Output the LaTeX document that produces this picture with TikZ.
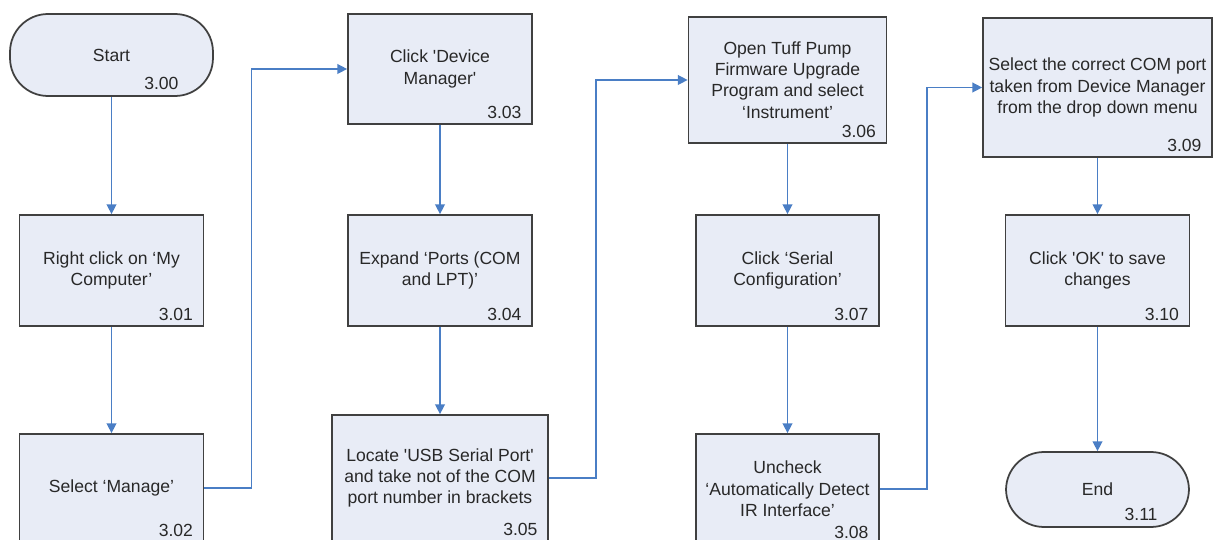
\documentclass[tikz,border=0pt]{standalone}
\usepackage{fontspec}
\setmainfont{Liberation Sans}
\usetikzlibrary{arrows.meta}
\definecolor{boxfill}{RGB}{232,236,246}
\definecolor{boxline}{RGB}{64,64,64}
\definecolor{connc}{RGB}{74,126,197}
\definecolor{txt}{RGB}{40,40,40}
\begin{document}
\begin{tikzpicture}[x=0.02cm,y=-0.02cm,
  stepbox/.style={draw=boxline,line width=1pt,fill=boxfill,align=center,text=txt,
    font=\fontsize{10}{12.2}\selectfont,inner sep=1pt},
  termbox/.style={stepbox,rounded corners=0.76cm},
  num/.style={anchor=base east,inner sep=0pt,text=txt,font=\fontsize{10}{12}\selectfont},
  conn/.style={draw=connc,line width=0.8pt,-{Triangle[length=5.5pt,width=5.5pt]}}]
\useasboundingbox (0,0) rectangle (1218,540);
% column 1
\node[termbox,minimum width=4.06cm,minimum height=1.64cm] (S) at (111.5,55) {Start};
\node[stepbox,minimum width=3.68cm,minimum height=2.22cm] (b301) at (111.5,270.5) {Right click on ‘My\\Computer’};
\node[stepbox,minimum width=3.68cm,minimum height=2.16cm] (b302) at (111.5,488) {Select ‘Manage’};
% column 2
\node[stepbox,minimum width=3.68cm,minimum height=2.2cm] (b303) at (440,69) {Click \textquotesingle Device\\Manager\textquotesingle};
\node[stepbox,minimum width=3.68cm,minimum height=2.22cm] (b304) at (440,270.5) {Expand ‘Ports (COM\\and LPT)’};
\node[stepbox,minimum width=4.32cm,minimum height=2.52cm] (b305) at (440,478) {Locate \textquotesingle USB Serial Port\textquotesingle\\and take not of the COM\\port number in brackets};
% column 3
\node[stepbox,minimum width=3.96cm,minimum height=2.52cm] (b306) at (787.5,80) {Open Tuff Pump\\Firmware Upgrade\\Program and select\\‘Instrument’};
\node[stepbox,minimum width=3.66cm,minimum height=2.22cm] (b307) at (787.5,270.5) {Click ‘Serial\\Configuration’};
\node[stepbox,minimum width=3.66cm,minimum height=2.2cm] (b308) at (787.5,489) {Uncheck\\‘Automatically Detect\\IR Interface’};
% column 4
\node[stepbox,minimum width=4.58cm,minimum height=2.78cm] (b309) at (1097.5,87.5) {Select the correct COM port\\taken from Device Manager\\from the drop down menu};
\node[stepbox,minimum width=3.68cm,minimum height=2.22cm] (b310) at (1097.5,270.5) {Click \textquotesingle OK\textquotesingle\ to save\\changes};
\node[termbox,minimum width=3.66cm,minimum height=1.5cm] (E) at (1097.5,489.5) {End};
% numbers
\node[num] (n300) at ([shift={(-35,-7)}]S.south east) {3.00};
\node[num] (n301) at ([shift={(-11,-6)}]b301.south east) {3.01};
\node[num] (n302) at ([shift={(-11,-6)}]b302.south east) {3.02};
\node[num] (n303) at ([shift={(-11,-6)}]b303.south east) {3.03};
\node[num] (n304) at ([shift={(-11,-6)}]b304.south east) {3.04};
\node[num] (n305) at ([shift={(-11,-6)}]b305.south east) {3.05};
\node[num] (n306) at ([shift={(-11,-6)}]b306.south east) {3.06};
\node[num] (n307) at ([shift={(-11,-6)}]b307.south east) {3.07};
\node[num] (n308) at ([shift={(-11,-6)}]b308.south east) {3.08};
\node[num] (n309) at ([shift={(-11,-6)}]b309.south east) {3.09};
\node[num] (n310) at ([shift={(-11,-6)}]b310.south east) {3.10};
\node[num] (n311) at ([shift={(-32,-7)}]E.south east) {3.11};
% connectors
\draw[conn] (S.south) -- (b301.north);
\draw[conn] (b301.south) -- (b302.north);
\draw[conn] (b302.east) -- ++(47,0) |- (b303.west);
\draw[conn] (b303.south) -- (b304.north);
\draw[conn] (b304.south) -- (b305.north);
\draw[conn] (b305.east) -- ++(47,0) |- (b306.west);
\draw[conn] (b306.south) -- (b307.north);
\draw[conn] (b307.south) -- (b308.north);
\draw[conn] (b308.east) -- ++(47,0) |- (b309.west);
\draw[conn] (b309.south) -- (b310.north);
\draw[conn] (b310.south) -- (E.north);
\end{tikzpicture}
\end{document}
